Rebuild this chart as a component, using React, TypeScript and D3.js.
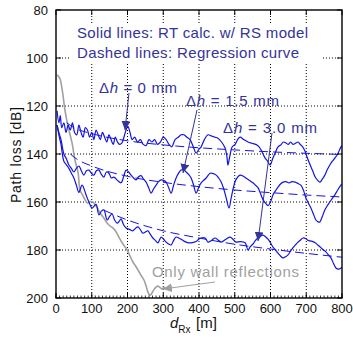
import React from "react";
import * as d3 from "d3";

// ---- data ----
const xTicks = [0, 100, 200, 300, 400, 500, 600, 700, 800];
const yTicks = [80, 100, 120, 140, 160, 180, 200];

const rt0_d = [3, 8, 12, 16, 22, 28, 34, 40, 46, 52, 58, 64, 70, 76, 82, 88, 94, 100, 106, 112, 118, 124, 130, 136, 142, 148, 154, 160, 166, 172, 178, 184, 190, 196, 201, 207, 213, 220, 228, 236, 244, 252, 260, 268, 276, 284, 292, 300, 308, 316, 324, 333, 342, 350, 358, 366, 375, 384, 392, 400, 406, 415, 425, 435, 445, 453, 463, 473, 478, 481, 486, 493, 501, 508, 515, 525, 537, 548, 559, 568, 576, 585, 592, 599, 606, 613, 621, 629, 636, 643, 650, 656, 663, 670, 677, 683, 690, 697, 704, 711, 718, 725, 732, 738, 745, 752, 759, 766, 773, 780, 788, 797, 800];
const rt0_L = [122, 127, 124, 129, 127, 131, 128, 130, 127, 131, 132, 128, 131, 133, 129, 130, 133, 131, 134, 130, 132, 134, 131, 133, 135, 132, 134, 136, 133, 135, 136, 135.5, 133, 130, 128.5, 131, 134, 133, 135, 134, 136, 136.5, 134, 135, 134, 136, 135, 133, 134, 136, 137, 134, 133, 132, 132, 133, 134, 137, 139.6, 138, 137, 134, 132, 132.5, 133, 133.4, 135, 137.5, 141, 144.6, 141, 137, 136, 134, 133, 134, 135, 135.5, 136, 137, 139, 141.7, 143, 144.6, 142, 139.6, 137, 136.2, 135, 135.4, 136, 135, 136, 135.5, 135, 136, 137, 139, 142, 144.6, 147, 149.6, 151, 151.7, 150.5, 148.8, 146.5, 144.6, 143, 141.7, 140, 137, 136.5];

const rt15_d = [3, 8, 14, 22, 29, 36, 43, 50, 57, 64, 71, 78, 85, 92, 99, 106, 113, 120, 127, 134, 141, 148, 155, 162, 172, 182, 190, 196, 203, 210, 217, 224, 231, 238, 245, 252, 259, 266, 273, 280, 287, 294, 301, 308, 315, 322, 329, 336, 343, 350, 357, 364, 371, 378, 385, 392, 399, 406, 420, 431, 440, 448, 455, 462, 469, 476, 484, 490, 497, 503, 515, 523, 531, 541, 551, 558, 565, 572, 579, 586, 593, 600, 607, 614, 621, 628, 635, 643, 652, 660, 669, 677, 685, 692, 699, 706, 713, 720, 727, 733, 738, 745, 752, 759, 766, 773, 780, 788, 797, 800];
const rt15_L = [128, 131, 134, 140, 142, 144.6, 146, 147.5, 146, 145, 147, 148.8, 147, 146.7, 148, 148.8, 147, 146.7, 148.5, 149.6, 147.5, 148, 150, 149.6, 151, 152, 149, 146.7, 147.5, 148.8, 150, 150.8, 149.5, 149, 150.5, 151.7, 154, 156.3, 154.5, 153, 151.5, 150.8, 151, 151.7, 154, 156.3, 153, 150, 148, 146.7, 146.5, 147.5, 148.5, 150, 153, 156.3, 154, 152, 150, 148, 148.2, 148.8, 150, 151.7, 154.5, 158.3, 162.5, 158.3, 153.5, 150.8, 148.8, 149.2, 150, 151, 152, 153, 154, 156.5, 159, 160.5, 161.5, 160, 157, 155.3, 153.8, 152.5, 151.7, 151.5, 152, 151.5, 151.7, 152.3, 153, 155, 158.3, 160.5, 162.5, 165, 167.5, 168.3, 168.3, 166, 163.3, 161.5, 160, 158.5, 157, 155, 153, 152.5];

const rt30_d = [3, 8, 14, 22, 29, 36, 43, 50, 57, 64, 73, 84, 92, 101, 112, 120, 127, 134, 143, 150, 157, 164, 171, 177, 182, 189, 196, 207, 215, 222, 229, 236, 243, 250, 257, 264, 271, 278, 285, 294, 301, 308, 315, 322, 329, 336, 343, 350, 357, 364, 371, 378, 385, 392, 399, 406, 417, 425, 435, 445, 453, 462, 475, 487, 495, 503, 515, 529, 537, 544, 551, 558, 565, 572, 579, 586, 593, 600, 607, 614, 621, 628, 635, 642, 649, 656, 663, 670, 677, 684, 691, 698, 705, 715, 725, 733, 741, 748, 755, 762, 769, 776, 783, 790, 797, 800];
const rt30_L = [128, 132, 136, 143, 144.5, 146, 148, 150, 153, 156, 153, 157, 160, 162.5, 161, 165.4, 163.8, 163.3, 167.5, 166, 165, 167.5, 168.8, 168, 167, 169.5, 170.8, 171.5, 172, 171, 170.4, 171.5, 173, 172.5, 172, 173.5, 175, 176, 177, 174.6, 175.5, 176.7, 177.5, 177.9, 176, 174.6, 175, 175.5, 176.2, 176.7, 177, 177, 176.8, 176.5, 175.5, 175, 175, 176.7, 176, 175, 175.8, 176.7, 175.5, 174.6, 175.5, 176.7, 176.5, 177, 180, 178.5, 177.5, 176, 175, 174.2, 173.8, 174.5, 175.5, 177, 178.8, 180, 181.3, 182.5, 183.3, 182.8, 182, 180.5, 179, 177.8, 176.7, 175.8, 175, 175.2, 176, 176.3, 177, 178, 179, 180, 180.8, 182, 183.3, 185.5, 187.5, 188, 187.5, 187.3];

const wall_d = [3, 11, 16, 20, 25, 34, 45, 53, 62, 67, 74, 81, 88, 95, 103, 109, 116, 123, 133, 143, 151, 159, 166, 173, 179, 185, 192, 199, 207, 215, 224, 232, 239, 246, 252, 257, 262, 266, 270, 274, 280, 285, 290, 294, 298, 302, 306, 310];
const wall_L = [107, 108.5, 112, 116, 121.7, 128.7, 135.5, 142.5, 148, 155, 157, 159, 160.4, 159.8, 160, 161, 162.5, 164.6, 166.5, 168.8, 170, 170.8, 172, 173.8, 175.5, 177, 178.5, 180, 182.5, 185, 187, 189, 190.8, 192.5, 195, 197.5, 198.8, 198.5, 197.5, 196.5, 195.5, 195, 195.5, 196, 196.2, 195.5, 195.8, 196];

const reg0_d = [30, 50, 100, 200, 300, 400, 500, 600, 700, 800];
const reg0_L = [127, 129, 131.5, 134.5, 136.2, 137.4, 138.3, 139.1, 139.7, 140.2];
const reg15_d = [40, 60, 100, 200, 300, 400, 500, 600, 700, 800];
const reg15_L = [140, 142.3, 145, 149.3, 151.8, 153.6, 155, 156.1, 157.1, 157.9];
const reg30_d = [135, 200, 300, 400, 500, 600, 700, 800];
const reg30_L = [163.5, 167.5, 172, 175, 177.6, 179.6, 181.4, 183];

const W = 353, H = 344;
const M = { left: 56, right: 342, top: 10, bottom: 298 };

const x = d3.scaleLinear().domain([0, 800]).range([M.left, M.right]);
const y = d3.scaleLinear().domain([80, 200]).range([M.top, M.bottom]);

const zip = (ds: number[], ls: number[]) => ds.map((d, i) => [d, ls[i]] as [number, number]);

const solid = d3.line<[number, number]>().x(p => x(p[0])).y(p => y(p[1])).curve(d3.curveCatmullRom.alpha(0.5));
const smooth = d3.line<[number, number]>().x(p => x(p[0])).y(p => y(p[1])).curve(d3.curveMonotoneX);

const BLUE = "#1414e0";
const NAVY = "#333399";
const GRAY = "#a0a0a0";
const FONT = "'Liberation Sans', Arial, Helvetica, sans-serif";

const minor = d3.range(0, 801, 10);

export default function App() {
  return (
    <svg width={W} height={H} style={{ position: "absolute", left: 0, top: 0, background: "#fff" }} fontFamily={FONT}>
      <defs>
        <marker id="ahN" viewBox="0 0 10 10" refX="10" refY="5" markerWidth="9" markerHeight="9" markerUnits="userSpaceOnUse" orient="auto">
          <path d="M0,0 L10,5 L0,10 z" fill={NAVY} />
        </marker>
        <marker id="ahG" viewBox="0 0 10 10" refX="10" refY="5" markerWidth="9" markerHeight="9" markerUnits="userSpaceOnUse" orient="auto">
          <path d="M0,0 L10,5 L0,10 z" fill={GRAY} />
        </marker>
        <clipPath id="plot">
          <rect x={M.left} y={M.top} width={M.right - M.left} height={M.bottom - M.top} />
        </clipPath>
      </defs>

      {/* grid */}
      {yTicks.filter(t => t > 80 && t < 200).map(t => (
        <line key={"gy" + t} x1={M.left} x2={M.right} y1={y(t)} y2={y(t)} stroke="#000" strokeWidth={1} strokeDasharray="1,2" />
      ))}
      {xTicks.filter(t => t > 0 && t < 800).map(t => (
        <line key={"gx" + t} x1={x(t)} x2={x(t)} y1={M.top} y2={M.bottom} stroke="#000" strokeWidth={1} strokeDasharray="1,2" />
      ))}

      {/* legend text box (hides grid) */}
      <rect x={70} y={24} width={251} height={38} fill="#fff" />

      <g clipPath="url(#plot)">
        <path d={solid(zip(wall_d, wall_L)) || ""} fill="none" stroke={GRAY} strokeWidth={1.6} />
        <path d={smooth(zip(reg0_d, reg0_L)) || ""} fill="none" stroke={BLUE} strokeWidth={1} strokeDasharray="9,5" />
        <path d={smooth(zip(reg15_d, reg15_L)) || ""} fill="none" stroke={BLUE} strokeWidth={1} strokeDasharray="9,5" />
        <path d={smooth(zip(reg30_d, reg30_L)) || ""} fill="none" stroke={BLUE} strokeWidth={1} strokeDasharray="9,5" />
        <path d={solid(zip(rt0_d, rt0_L)) || ""} fill="none" stroke={BLUE} strokeWidth={1.2} />
        <path d={solid(zip(rt15_d, rt15_L)) || ""} fill="none" stroke={BLUE} strokeWidth={1.2} />
        <path d={solid(zip(rt30_d, rt30_L)) || ""} fill="none" stroke={BLUE} strokeWidth={1.2} />
      </g>

      {/* frame and ticks */}
      <rect x={M.left} y={M.top} width={M.right - M.left} height={M.bottom - M.top} fill="none" stroke="#000" strokeWidth={1.4} />
      {minor.map(t => (
        <line key={"mn" + t} x1={x(t)} x2={x(t)} y1={M.bottom} y2={M.bottom - 2.5} stroke="#000" strokeWidth={0.8} />
      ))}
      {xTicks.map(t => (
        <g key={"xt" + t}>
          <line x1={x(t)} x2={x(t)} y1={M.bottom} y2={M.bottom - 5} stroke="#000" />
          <line x1={x(t)} x2={x(t)} y1={M.top} y2={M.top + 5} stroke="#000" />
          <text x={x(t)} y={313} textAnchor="middle" fontSize={13} fill="#111">{t}</text>
        </g>
      ))}
      {yTicks.map(t => (
        <g key={"yt" + t}>
          <line x1={M.left} x2={M.left + 5} y1={y(t)} y2={y(t)} stroke="#000" />
          <line x1={M.right} x2={M.right - 5} y1={y(t)} y2={y(t)} stroke="#000" />
          <text x={48} y={y(t)} dy="0.36em" textAnchor="end" fontSize={13} fill="#111">{t}</text>
        </g>
      ))}

      {/* axis titles */}
      <text transform={`translate(21,155) rotate(-90)`} textAnchor="middle" fontSize={14} fill="#111" textLength={96} lengthAdjust="spacing">Path loss [dB]</text>
      <text x={170} y={328} fontSize={15} fill="#111">
        <tspan fontStyle="italic">d</tspan>
        <tspan fontSize={10} dy={5}>Rx</tspan>
      </text>
      <text x={196} y={328} fontSize={15} fill="#111">[m]</text>

      {/* annotations */}
      <text x={77} y={38} fontSize={15} fill={NAVY} textLength={231} lengthAdjust="spacing">Solid lines: RT calc. w/ RS model</text>
      <text x={77} y={58} fontSize={15} fill={NAVY} textLength={222} lengthAdjust="spacing">Dashed lines: Regression curve</text>

      <text x={99} y={93} fontSize={15} fill={NAVY} textLength={78} lengthAdjust="spacing">Δ<tspan fontStyle="italic">h</tspan> = 0 mm</text>
      <text x={186} y={106} fontSize={15} fill={NAVY} textLength={93} lengthAdjust="spacing">Δ<tspan fontStyle="italic">h</tspan> = 1.5 mm</text>
      <text x={223} y={133} fontSize={15} fill={NAVY} textLength={94} lengthAdjust="spacing">Δ<tspan fontStyle="italic">h</tspan> = 3.0 mm</text>
      <text x={152} y={277} fontSize={15} fill={GRAY} textLength={147} lengthAdjust="spacing">Only wall reflections</text>

      <line x1={129} y1={93} x2={125} y2={130} stroke={NAVY} strokeWidth={1} markerEnd="url(#ahN)" />
      <line x1={197} y1={110} x2={183} y2={173} stroke={NAVY} strokeWidth={1} markerEnd="url(#ahN)" />
      <line x1={272} y1={133} x2={258} y2={241} stroke={NAVY} strokeWidth={1} markerEnd="url(#ahN)" />
      <line x1={215} y1={282} x2={163} y2={289} stroke={GRAY} strokeWidth={1} markerEnd="url(#ahG)" />
    </svg>
  );
}
